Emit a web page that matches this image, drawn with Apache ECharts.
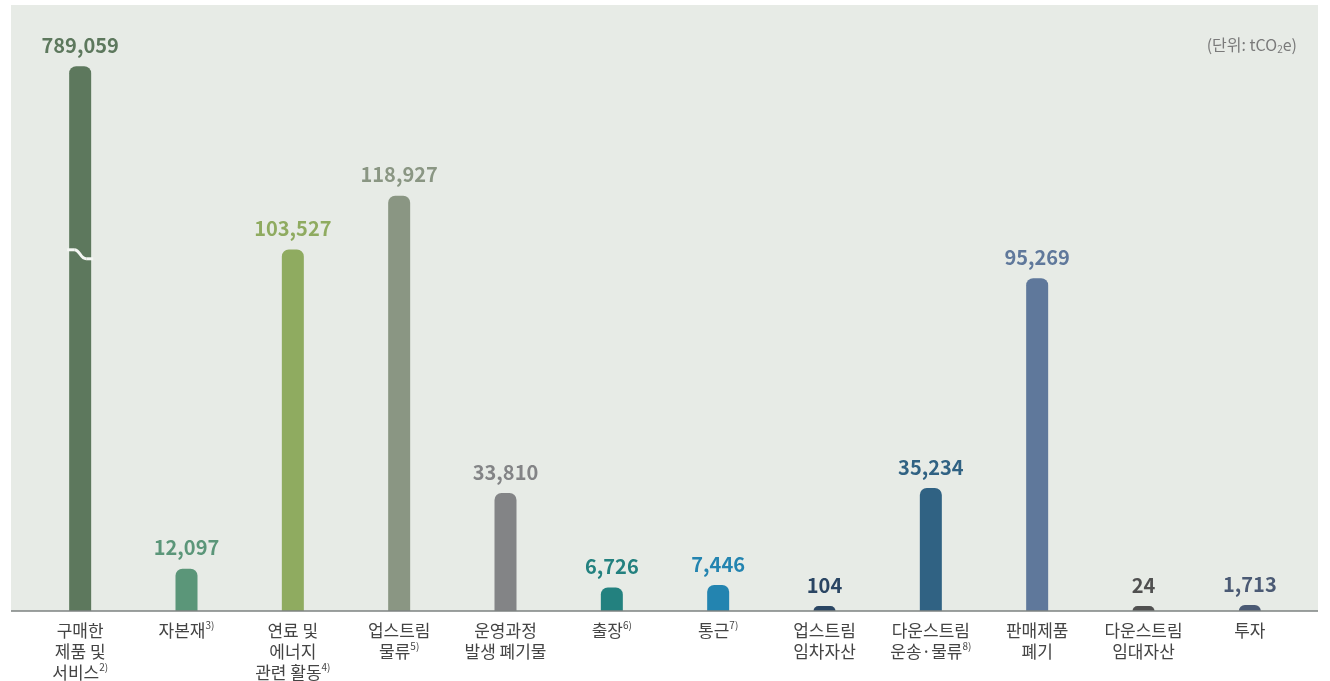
<!DOCTYPE html>
<html>
<head>
<meta charset="utf-8">
<script src="https://cdn.jsdelivr.net/npm/echarts@6/dist/echarts.min.js"></script>
<style>
  html, body { margin: 0; padding: 0; background: #fff; }
  #chart { width: 1330px; height: 681px; }
</style>
</head>
<body>
<div id="chart"></div>
<script>
// 카테고리 (Scope 3)
const categories = [
  '구매한\n제품 및\n서비스', '자본재', '연료 및\n에너지\n관련 활동', '업스트림\n물류',
  '운영과정\n발생 폐기물', '출장', '통근', '업스트림\n임차자산',
  '다운스트림\n운송·물류', '판매제품\n폐기', '다운스트림\n임대자산', '투자'
]
const footnotes = ['2)', '3)', '4)', '5)', '', '6)', '7)', '', '8)', '', '', '']
const values = [789059, 12097, 103527, 118927, 33810, 6726, 7446, 104, 35234, 95269, 24, 1713]
const barColors = [
  '#5d785d', '#5b9679', '#8fab60', '#8a9683', '#838486', '#23817f',
  '#2384b0', '#2a4563', '#306283', '#5f789b', '#505050', '#4b5a74'
]
// 첫 막대는 축 생략(물결) 표시
const breakCap = 156000
const breakAt = 102000

const FONT = '"Noto Sans CJK KR", "Noto Sans", sans-serif'

const chart = echarts.init(document.getElementById('chart'))

const seriesData = values.map((v, i) => ({
  value: Math.min(v, breakCap),
  raw: v,
  itemStyle: { color: barColors[i] },
  label: { color: barColors[i] }
}))

chart.setOption({
  animation: false,
  backgroundColor: '#ffffff',
  textStyle: { fontFamily: FONT },
  grid: { left: 27, right: 27, top: 40, bottom: 67 },
  xAxis: {
    type: 'category',
    data: categories,
    axisLine: { show: false },
    axisTick: { show: false },
    axisLabel: {
      interval: 0,
      margin: 9,
      formatter: (val, idx) => {
        const lines = val.split('\n')
        return lines.map((l, k) => {
          let s = '{a|' + l + '}'
          if (k === lines.length - 1 && footnotes[idx]) s += '{s|' + footnotes[idx] + '}'
          return s
        }).join('\n')
      },
      rich: {
        a: { fontFamily: FONT, fontSize: 17, color: '#444', lineHeight: 21 },
        s: { fontFamily: FONT, fontSize: 10, color: '#444', verticalAlign: 'top', lineHeight: 21, padding: [0, 0, 7, 0] }
      }
    }
  },
  yAxis: {
    type: 'value',
    min: 0,
    max: 163500,
    show: false,
    splitLine: { show: false }
  },
  series: [{
    type: 'bar',
    barWidth: 22,
    barMinHeight: 5,
    data: seriesData,
    itemStyle: { borderRadius: [7, 7, 0, 0] },
    label: {
      show: true,
      position: 'top',
      distance: 11,
      fontFamily: FONT,
      fontSize: 20,
      fontWeight: 'bold',
      formatter: p => p.data.raw.toLocaleString('en-US')
    }
  }]
})

const base = chart.convertToPixel({ seriesIndex: 0 }, [0, 0])
const brk = chart.convertToPixel({ seriesIndex: 0 }, [0, breakAt])
const waveStyle = { stroke: '#f4f6f3', lineWidth: 3, fill: null }
const bx = brk[0], by = brk[1]

chart.setOption({
  graphic: [
    {
      type: 'rect', z: -10, silent: true,
      shape: { x: 11, y: 5, width: 1307, height: base[1] - 5 },
      style: { fill: '#e7ebe6' }
    },
    {
      type: 'line', z: 10, silent: true,
      shape: { x1: 11, y1: base[1], x2: 1318, y2: base[1] },
      style: { stroke: '#7d8280', lineWidth: 1.5 }
    },
    { type: 'line', z: 50, silent: true, shape: { x1: bx - 13, y1: by - 5, x2: bx - 6, y2: by - 5 }, style: waveStyle },
    { type: 'bezierCurve', z: 50, silent: true, shape: { x1: bx - 6, y1: by - 5, cpx1: bx, cpy1: by - 5, cpx2: bx, cpy2: by + 4, x2: bx + 6, y2: by + 4 }, style: waveStyle },
    { type: 'line', z: 50, silent: true, shape: { x1: bx + 6, y1: by + 4, x2: bx + 13, y2: by + 4 }, style: waveStyle },
    {
      type: 'text', z: 20, silent: true,
      x: 1297, y: 45,
      style: {
        text: '(단위: tCO{sub|2}e)',
        align: 'right',
        verticalAlign: 'middle',
        fontFamily: FONT,
        fontSize: 16,
        fill: '#7a7a7a',
        rich: {
          sub: { fontFamily: FONT, fontSize: 10, fill: '#7a7a7a', verticalAlign: 'bottom', padding: [9, 0, 0, 0] }
        }
      }
    }
  ]
})
</script>
</body>
</html>
